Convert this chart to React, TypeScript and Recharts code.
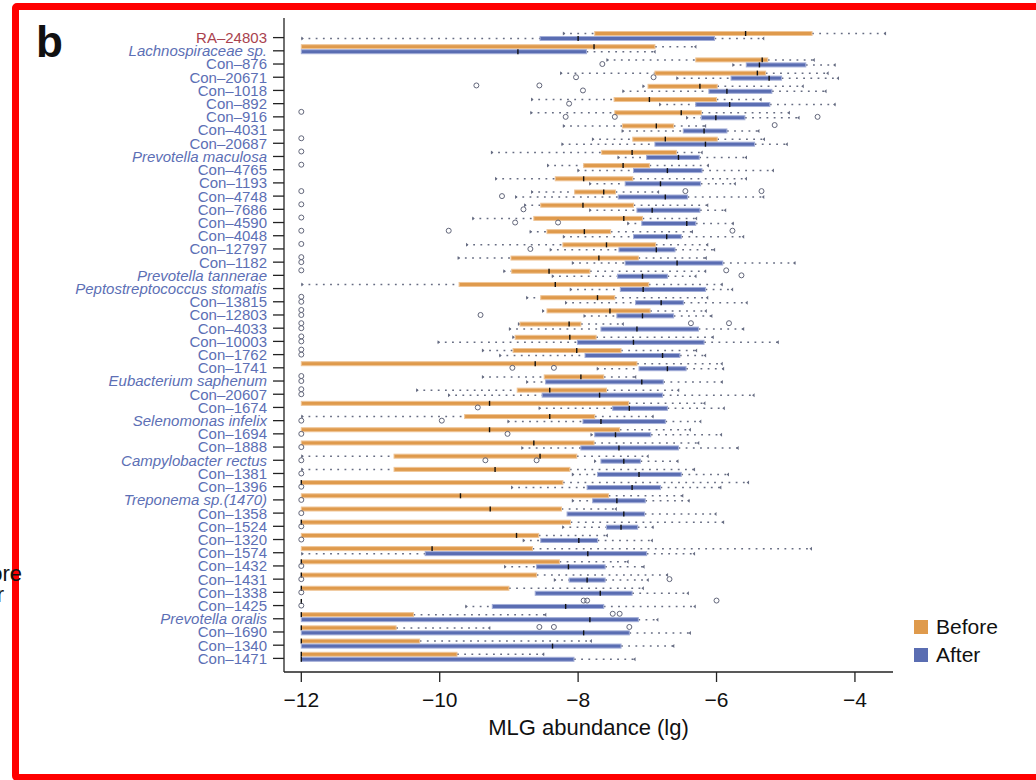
import React from "react";
import { Bar, ComposedChart, Scatter, XAxis, YAxis } from "recharts";

const FONT = '"Liberation Sans", Arial, Helvetica, sans-serif';
const ORANGE = "#DF9A4C";
const ORANGE_EDGE = "#EFC597";
const BLUE = "#5A6DB2";
const BLUE_EDGE = "#A3AED8";
const LABEL_BLUE = "#5C6FB5";
const LABEL_RED = "#A9424E";
const WHISKER = "#666c82";
const INK = "#222";

// taxa, top to bottom
const taxa = [
  "RA–24803", "Lachnospiraceae sp.", "Con–876", "Con–20671", "Con–1018", "Con–892",
  "Con–916", "Con–4031", "Con–20687", "Prevotella maculosa", "Con–4765", "Con–1193",
  "Con–4748", "Con–7686", "Con–4590", "Con–4048", "Con–12797", "Con–1182",
  "Prevotella tannerae", "Peptostreptococcus stomatis", "Con–13815", "Con–12803", "Con–4033", "Con–10003",
  "Con–1762", "Con–1741", "Eubacterium saphenum", "Con–20607", "Con–1674", "Selenomonas infelix",
  "Con–1694", "Con–1888", "Campylobacter rectus", "Con–1381", "Con–1396", "Treponema sp.(1470)",
  "Con–1358", "Con–1524", "Con–1320", "Con–1574", "Con–1432", "Con–1431",
  "Con–1338", "Con–1425", "Prevotella oralis", "Con–1690", "Con–1340", "Con–1471",
];
const redTaxa = ["RA–24803"];

// Before treatment (lg abundance)
const beforeLow = [
  -8.22, -12, -7.59, -8.26, -7.07, -8.68, -8.69, -8.22, -7.8, -9.26, -8.45, -9.2,
  -8.68, -8.78, -9.53, -8.7, -9.62, -9.74, -9.08, -12, -8.75, -8.52, -8.87, -8.95,
  -9.39, -12, -9.39, -10.34, -12, -12, -12, -12, -12, -12, -12, -12,
  -12, -12, -12, -12, -12, -12, -12, -12, -12, -12, -12, -12,
];
const beforeQ1 = [
  -7.76, -12, -6.3, -6.89, -6.99, -7.48, -7.47, -7.36, -7.21, -7.66, -7.92, -8.33,
  -8.05, -8.54, -8.64, -8.45, -8.22, -8.97, -8.96, -9.72, -8.54, -8.45, -8.84, -8.91,
  -8.94, -12, -8.49, -8.88, -12, -9.64, -12, -12, -10.66, -10.66, -12, -12,
  -12, -12, -12, -12, -12, -12, -12, -12, -12, -12, -12, -12,
];
const beforeMedian = [
  -5.58, -7.77, -5.34, -5.41, -6.24, -6.97, -6.51, -6.87, -6.74, -7.22, -7.35, -7.92,
  -7.63, -7.93, -7.34, -7.91, -7.59, -7.7, -8.42, -8.33, -7.72, -7.54, -8.13, -8.12,
  -8.02, -8.62, -7.96, -8.41, -9.28, -8.41, -9.28, -8.64, -8.55, -9.2, -12, -9.7,
  -9.27, -12, -8.89, -10.11, -12, -12, -12, -12, -12, -12, -12, -12,
];
const beforeQ3 = [
  -4.62, -6.89, -5.26, -5.29, -5.99, -6.0, -6.22, -6.62, -5.99, -6.58, -6.97, -7.21,
  -7.46, -7.2, -7.07, -7.53, -6.88, -7.13, -7.83, -6.98, -7.47, -6.96, -7.96, -7.74,
  -7.38, -7.15, -7.63, -7.59, -7.27, -7.76, -7.4, -7.77, -8.02, -8.12, -8.22, -7.56,
  -8.24, -8.11, -8.57, -8.66, -8.27, -8.6, -9.0, -12, -10.38, -10.63, -10.29, -9.75,
];
const beforeHigh = [
  -3.55, -6.29, -4.58, -4.38, -4.74, -5.35, -4.94, -6.15, -5.3, -6.2, -6.11, -5.56,
  -6.83, -6.12, -6.28, -6.34, -6.12, -6.14, -6.15, -5.91, -6.12, -6.14, -7.34, -6.04,
  -6.28, -5.91, -7.16, -6.54, -6.16, -6.91, -6.37, -6.25, -6.98, -6.31, -5.53, -6.48,
  -7.44, -5.89, -7.57, -4.62, -7.27, -6.7, -7.05, -12, -8.46, -9.27, -7.8, -8.49,
];
const beforeOutliers: number[][] = [
  [], [], [], [], [-9.47, -8.56], [], [-12], [-5.16], [-12], [-12], [-12], [],
  [-12, -6.45, -5.35], [-12], [-12], [-12, -9.87, -5.77], [-12], [-12], [-12, -5.86], [], [-12], [-12], [-12, -6.37, -5.82], [-12],
  [-12], [], [-12], [-12], [], [], [], [], [], [], [], [],
  [], [], [], [], [], [], [], [-7.92, -7.87, -6.0], [-7.5, -7.4], [-8.56, -8.35, -7.26], [], [],
];

// After treatment (lg abundance)
const afterLow = [
  -12, -12, -5.77, -6.58, -7.36, -6.83, -6.44, -7.37, -8.24, -7.43, -8.01, -7.84,
  -8.91, -7.84, -7.29, -8.22, -8.41, -8.09, -8.38, -8.12, -8.19, -7.92, -9.0, -10.03,
  -9.14, -7.73, -8.75, -9.88, -8.57, -9.02, -7.82, -8.82, -7.77, -8.09, -8.97, -8.09,
  -8.16, -8.23, -8.8, -12, -9.07, -8.35, -8.62, -9.63, -12, -12, -12, -12,
];
const afterQ1 = [
  -8.55, -12, -5.57, -5.79, -6.11, -6.3, -6.22, -6.48, -6.89, -7.01, -7.2, -7.32,
  -7.42, -7.15, -7.08, -7.2, -7.41, -7.32, -7.43, -7.39, -7.17, -7.44, -7.67, -8.01,
  -7.9, -7.12, -8.47, -8.52, -7.5, -7.93, -7.76, -7.96, -7.67, -7.72, -7.87, -7.79,
  -8.16, -7.59, -8.54, -10.21, -8.6, -8.13, -8.62, -9.24, -12, -12, -12, -12,
];
const afterMedian = [
  -8.0, -8.87, -5.38, -5.24, -5.85, -5.81, -6.01, -6.18, -6.16, -6.55, -6.71, -6.81,
  -6.74, -6.93, -6.43, -6.72, -6.87, -6.57, -7.07, -7.06, -6.8, -7.07, -7.15, -7.2,
  -6.78, -6.71, -7.08, -7.69, -7.26, -7.67, -7.46, -7.41, -7.34, -7.12, -7.22, -7.44,
  -7.34, -7.38, -7.99, -7.86, -8.14, -7.87, -7.68, -8.18, -7.83, -7.92, -8.37, -12,
];
const afterQ3 = [
  -6.03, -7.88, -4.71, -5.06, -5.2, -5.23, -5.59, -5.85, -5.45, -6.25, -6.21, -6.23,
  -6.42, -6.24, -6.3, -6.51, -6.6, -5.91, -6.71, -6.16, -6.48, -6.62, -6.26, -6.18,
  -6.53, -6.44, -6.77, -6.78, -6.71, -6.74, -6.95, -6.55, -7.1, -6.51, -6.81, -7.03,
  -7.04, -7.14, -7.72, -7.01, -7.61, -7.61, -7.22, -7.63, -7.13, -7.26, -7.38, -8.06,
];
const afterHigh = [
  -5.31, -6.88, -4.28, -4.23, -4.41, -4.28, -4.8, -5.38, -4.97, -5.56, -5.17, -5.72,
  -5.31, -5.86, -5.75, -5.6, -6.02, -4.86, -6.29, -5.76, -5.55, -6.06, -5.6, -5.1,
  -6.15, -5.89, -5.91, -5.45, -5.88, -6.22, -5.92, -5.68, -6.55, -5.82, -5.93, -6.39,
  -6.0, -6.91, -6.92, -6.31, -7.04, -6.98, -6.4, -6.3, -6.84, -6.37, -6.61, -7.17,
];
const afterOutliers: number[][] = [
  [], [], [-7.65], [-8.03, -6.91], [-7.93], [-8.13], [-8.18, -7.47, -4.54], [], [], [], [], [],
  [-9.1], [-8.79], [-8.91, -8.29], [], [-8.69], [-12], [-5.64], [], [-12], [-12, -9.41], [-12], [-12],
  [-12], [-8.95, -8.35], [-12], [-12], [-9.45], [-12, -9.97], [-12, -9.02], [-12], [-12, -9.34, -8.6], [-12], [-12], [-12],
  [-12], [-12], [-12], [], [-12], [-12, -6.68], [-12], [-12], [], [], [], [],
];

const xTicks = [-12, -10, -8, -6, -4];
const xDomain = [-12.25, -3.45];
const seriesNames = ["Before", "After"];
const seriesColors = [ORANGE, BLUE];
const OUTLIER_SLOTS = [0, 1, 2];

const rows = taxa.map((name, i) => {
  const row: Record<string, any> = {
    name,
    before: [beforeLow[i], beforeHigh[i]],
    after: [afterLow[i], afterHigh[i]],
    beforeStats: { lo: beforeLow[i], q1: beforeQ1[i], med: beforeMedian[i], q3: beforeQ3[i], hi: beforeHigh[i] },
    afterStats: { lo: afterLow[i], q1: afterQ1[i], med: afterMedian[i], q3: afterQ3[i], hi: afterHigh[i] },
  };
  OUTLIER_SLOTS.forEach((k) => {
    row[`bOut${k}`] = beforeOutliers[i][k] ?? null;
    row[`aOut${k}`] = afterOutliers[i][k] ?? null;
  });
  return row;
});

// tick sits on the After box, a bit below the band centre
const TICK_SHIFT = 2;
const BEFORE_DY = -3;
const AFTER_DY = 2;

function makeBoxShape(statsKey: string, fill: string, edge: string) {
  return (props: any) => {
    const { x, y, width, height, payload } = props;
    const s = payload?.[statsKey];
    if (!s || !Number.isFinite(x) || !Number.isFinite(y)) return <g />;
    const span = s.hi - s.lo;
    const px = (v: number) => (span === 0 ? x : x + ((v - s.lo) / span) * width);
    const mid = y + height / 2;
    const x1 = px(s.q1);
    const x3 = px(s.q3);
    const xm = px(s.med);
    const xl = px(s.lo);
    const xh = px(s.hi);
    return (
      <g>
        {s.lo < s.q1 && (
          <g>
            <line x1={xl} x2={x1} y1={mid} y2={mid} stroke={WHISKER} strokeWidth={1.5} strokeDasharray="1.8 5.4" />
            <path d={`M${xl},${mid - 2} L${xl + 2.5},${mid} L${xl},${mid + 2} Z`} fill={WHISKER} />
          </g>
        )}
        {s.hi > s.q3 && (
          <g>
            <line x1={x3} x2={xh} y1={mid} y2={mid} stroke={WHISKER} strokeWidth={1.5} strokeDasharray="1.8 5.4" />
            <path d={`M${xh},${mid - 2} L${xh - 2.5},${mid} L${xh},${mid + 2} Z`} fill={WHISKER} />
          </g>
        )}
        {x3 > x1 && (
          <rect x={x1} y={y + 0.5} width={x3 - x1} height={height - 1} fill={fill} stroke={edge} strokeWidth={1} />
        )}
        <line x1={xm} x2={xm} y1={y} y2={y + height} stroke="#111" strokeWidth={1.4} />
      </g>
    );
  };
}

function makeOutlierShape(key: string, dy: number) {
  return (props: any) => {
    const { cx, cy, payload } = props;
    if (payload?.[key] == null || !Number.isFinite(cx) || !Number.isFinite(cy)) return <g />;
    return <circle cx={cx} cy={cy + dy} r={2.5} fill="none" stroke="#62667a" strokeWidth={1} />;
  };
}

function TaxonTick(props: any) {
  const { x, y, payload } = props;
  const name: string = payload.value;
  const ty = y + TICK_SHIFT;
  const italic = !name.startsWith("Con") && !redTaxa.includes(name);
  return (
    <g>
      <line x1={x + 6} x2={x + 17} y1={ty} y2={ty} stroke={INK} strokeWidth={1.3} />
      <text
        x={x}
        y={ty}
        dy="0.36em"
        textAnchor="end"
        fontFamily={FONT}
        fontSize={15}
        fontStyle={italic ? "italic" : "normal"}
        fill={redTaxa.includes(name) ? LABEL_RED : LABEL_BLUE}
      >
        {name}
      </text>
    </g>
  );
}

function XTitle(props: any) {
  const { viewBox } = props;
  if (!viewBox) return null;
  return (
    <text x={viewBox.x + viewBox.width / 2} y={viewBox.y + 63} textAnchor="middle" fontFamily={FONT} fontSize={22} fill="#111">
      MLG abundance (lg)
    </text>
  );
}

export default function App() {
  return (
    <div style={{ position: "absolute", left: 0, top: 0, width: 1036, height: 780, overflow: "hidden", background: "#fff" }}>
      <div
        style={{
          position: "absolute", left: 12, top: 3, width: 1200, height: 778,
          border: "7px solid #ff0000", borderRadius: 5, boxSizing: "border-box",
        }}
      />
      <div style={{ position: "absolute", left: 36, top: 14, fontFamily: FONT, fontWeight: "bold", fontSize: 44, lineHeight: "56px", color: "#111" }}>
        b
      </div>
      <div style={{ position: "absolute", right: 1014, top: 560, fontFamily: FONT, fontSize: 22, lineHeight: "28px", color: "#111", whiteSpace: "nowrap" }}>
        Before
      </div>
      <div style={{ position: "absolute", right: 1032, top: 581, fontFamily: FONT, fontSize: 22, lineHeight: "28px", color: "#111", whiteSpace: "nowrap" }}>
        After
      </div>

      <div style={{ position: "absolute", left: 0, top: 0 }}>
        <ComposedChart
          width={1036}
          height={780}
          data={rows}
          layout="vertical"
          margin={{ top: 18, right: 143, left: 20, bottom: 38 }}
          barGap={0}
        >
          <XAxis
            type="number"
            domain={xDomain}
            ticks={xTicks}
            allowDataOverflow
            tickFormatter={(v: number) => (v < 0 ? `\u2212${Math.abs(v)}` : `${v}`)}
            tick={{ fill: "#111", fontSize: 21, fontFamily: FONT }}
            tickSize={10}
            tickMargin={10}
            axisLine={{ stroke: INK, strokeWidth: 1.3 }}
            tickLine={{ stroke: INK, strokeWidth: 1.3 }}
            height={70}
            label={<XTitle />}
          />
          <YAxis
            type="category"
            dataKey="name"
            width={264}
            interval={0}
            padding={{ top: 11, bottom: 9 }}
            axisLine={{ stroke: INK, strokeWidth: 1.3 }}
            tickLine={false}
            tickSize={11}
            tickMargin={6}
            tick={<TaxonTick />}
          />
          <Bar dataKey="before" name="Before" barSize={5} isAnimationActive={false} shape={makeBoxShape("beforeStats", ORANGE, ORANGE_EDGE)} />
          <Bar dataKey="after" name="After" barSize={5} isAnimationActive={false} shape={makeBoxShape("afterStats", BLUE, BLUE_EDGE)} />
          {OUTLIER_SLOTS.map((k) => (
            <Scatter key={`b${k}`} dataKey={`bOut${k}`} isAnimationActive={false} shape={makeOutlierShape(`bOut${k}`, BEFORE_DY)} />
          ))}
          {OUTLIER_SLOTS.map((k) => (
            <Scatter key={`a${k}`} dataKey={`aOut${k}`} isAnimationActive={false} shape={makeOutlierShape(`aOut${k}`, AFTER_DY)} />
          ))}
        </ComposedChart>
      </div>

      <div style={{ position: "absolute", left: 914, top: 613, fontFamily: FONT, fontSize: 21, color: "#111" }}>
        {seriesNames.map((s, i) => (
          <div key={s} style={{ display: "flex", alignItems: "center", height: 28 }}>
            <span style={{ display: "inline-block", width: 14, height: 14, background: seriesColors[i], marginRight: 8 }} />
            <span>{s}</span>
          </div>
        ))}
      </div>
    </div>
  );
}
